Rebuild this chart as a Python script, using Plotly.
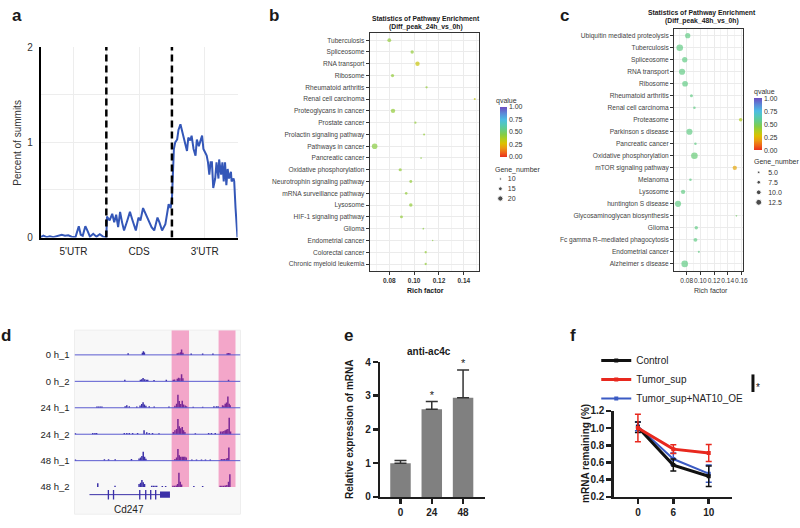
import plotly.graph_objects as go

W, H = 800, 528
FONT = "Liberation Sans, Arial, Helvetica, sans-serif"

# ---------------- data ----------------
# panel a : metagene distribution of summits
a_regions = ["5'UTR", "CDS", "3'UTR"]
a_pos = [0.00, 0.04, 0.09, 0.14, 0.19, 0.27, 0.32, 0.37, 0.42, 0.47, 0.53, 0.58, 0.61, 0.64, 0.68, 0.72, 0.75, 0.80, 0.85, 0.90, 0.95, 1.00,
         1.01, 1.05, 1.09, 1.12, 1.15, 1.18, 1.21, 1.24, 1.27, 1.32, 1.36, 1.40, 1.45, 1.49, 1.52, 1.56, 1.60, 1.65, 1.69, 1.73, 1.78, 1.81, 1.85, 1.90, 1.95, 1.98, 2.00,
         2.03, 2.05, 2.08, 2.10, 2.13, 2.15, 2.18, 2.20, 2.23, 2.25, 2.28, 2.30, 2.33, 2.36, 2.38, 2.41, 2.43, 2.46, 2.48, 2.51,
         2.53, 2.55, 2.57, 2.59, 2.61, 2.63, 2.66, 2.68, 2.71, 2.72, 2.75, 2.77, 2.79, 2.81, 2.83, 2.85, 2.87, 2.90, 2.91, 2.94,
         2.95, 2.97, 2.99, 3.00]
a_pct = [0.005, 0.02, 0.005, 0.015, 0.005, 0.025, 0.03, 0.02, 0.025, 0.01, 0.005, 0.12, 0.03, 0.02, 0.12, 0.06, 0.01, 0.04, 0.01, 0.035, 0.01, 0.005,
         0.22, 0.18, 0.25, 0.16, 0.24, 0.11, 0.27, 0.16, 0.075, 0.18, 0.27, 0.18, 0.075, 0.21, 0.18, 0.31, 0.25, 0.18, 0.11, 0.075, 0.21, 0.16, 0.075, 0.14, 0.35, 0.31, 0.40,
         0.93, 1.00, 1.03, 1.13, 1.19, 1.13, 1.06, 0.98, 0.91, 1.05, 1.02, 1.07, 0.93, 0.86, 1.03, 0.96, 1.00, 1.07, 0.93, 0.88,
         0.86, 0.79, 0.66, 0.79, 0.79, 0.52, 0.62, 0.79, 0.62, 0.82, 0.66, 0.79, 0.59, 0.79, 0.55, 0.72, 0.62, 0.69, 0.59, 0.62,
         0.59, 0.31, 0.04, 0.0]

# panel b : pathway enrichment 24h vs 0h (top to bottom)
b_pathways = ["Tuberculosis", "Spliceosome", "RNA transport", "Ribosome", "Rheumatoid arthritis",
              "Renal cell carcinoma", "Proteoglycans in cancer", "Prostate cancer", "Prolactin signaling pathway",
              "Pathways in cancer", "Pancreatic cancer", "Oxidative phosphorylation", "Neurotrophin signaling pathway",
              "mRNA surveillance pathway", "Lysosome", "HIF-1 signaling pathway", "Glioma", "Endometrial cancer",
              "Colorectal cancer", "Chronic myeloid leukemia"]
b_rich = [0.080, 0.0984, 0.1027, 0.0826, 0.110, 0.1488, 0.083, 0.101, 0.108, 0.0682,
          0.1056, 0.0888, 0.0973, 0.0936, 0.0973, 0.0898, 0.1074, 0.1149, 0.1093, 0.1093]
b_genes = [15, 13.5, 17, 13, 10, 9, 17, 10, 9, 21, 8, 13, 12, 11, 14, 12, 8, 7, 10, 10]
b_q = [0.42, 0.42, 0.31, 0.42, 0.42, 0.33, 0.42, 0.42, 0.42, 0.44,
       0.44, 0.42, 0.42, 0.42, 0.42, 0.42, 0.44, 0.44, 0.42, 0.42]
b_gene_levels = [10, 15, 20]

# panel c : pathway enrichment 48h vs 0h (top to bottom)
c_pathways = ["Ubiquitin mediated proteolysis", "Tuberculosis", "Spliceosome", "RNA transport", "Ribosome",
              "Rheumatoid arthritis", "Renal cell carcinoma", "Proteasome", "Parkinson s disease", "Pancreatic cancer",
              "Oxidative phosphorylation", "mTOR signaling pathway", "Melanoma", "Lysosome", "huntington S disease",
              "Glycosaminoglycan biosynthesis", "Glioma", "Fc gamma R\u2013mediated phagocytosis", "Endometrial cancer",
              "Alzheimer s disease"]
c_rich = [0.0815, 0.0698, 0.0771, 0.0732, 0.0776, 0.0869, 0.0913, 0.159, 0.084, 0.0928,
          0.0913, 0.1504, 0.0855, 0.0747, 0.0673, 0.1528, 0.094, 0.0928, 0.0978, 0.0771]
c_genes = [11, 14, 11, 13, 12, 6, 5, 7, 13, 5, 14, 9, 5, 9, 13, 3, 7, 8, 4, 14]
c_q = [0.55, 0.55, 0.55, 0.55, 0.55, 0.55, 0.55, 0.36, 0.55, 0.55,
       0.53, 0.21, 0.55, 0.55, 0.55, 0.50, 0.55, 0.55, 0.55, 0.55]
c_gene_levels = [5.0, 7.5, 10.0, 12.5]

# panel d : IGV-style coverage tracks around Cd247 (position 0-100, signal)
d_tracks = ["0 h_1", "0 h_2", "24 h_1", "24 h_2", "48 h_1", "48 h_2"]
d_pos_0h_1 = [32.3, 40.9, 41.5, 42.1, 61.9, 62.9, 63.9, 64.5, 65.3, 70.3, 77.2, 83.4, 92.0, 92.8, 93.6]
d_sig_0h_1 = [0.6, 0.8, 1.4, 0.9, 0.6, 0.8, 1.0, 2.0, 0.8, 0.5, 0.5, 0.5, 0.6, 0.7, 0.6]
d_pos_0h_2 = [30.3, 39.7, 40.5, 41.3, 42.3, 43.3, 44.1, 47.9, 55.3, 59.5, 60.3, 61.9, 62.7, 63.5, 64.5, 65.3, 92.8]
d_sig_0h_2 = [0.6, 0.6, 0.8, 1.3, 0.8, 0.6, 0.6, 0.5, 0.6, 0.6, 0.7, 1.0, 1.4, 1.2, 2.7, 1.2, 0.6]
d_pos_24h_1 = [13.5, 14.5, 15.5, 16.5, 30.5, 31.5, 33.0, 37.5, 39.5, 40.5, 41.3, 42.1, 43.0, 45.0, 48.0, 56.9, 60.5, 61.5, 62.3, 63.1,
               64.0, 64.9, 65.7, 66.7, 67.5, 71.5, 77.2, 84.0, 85.5, 86.5, 89.2, 90.0, 90.8, 91.6, 92.4, 93.2, 93.8]
d_sig_24h_1 = [0.5, 0.5, 0.5, 0.5, 0.6, 1.0, 0.6, 0.5, 0.9, 1.4, 2.1, 1.2, 0.8, 0.6, 0.5, 0.5, 0.8, 1.5, 4.9, 2.6,
               1.4, 2.7, 1.2, 0.9, 0.6, 0.4, 0.4, 0.6, 0.6, 0.6, 1.0, 0.8, 1.5, 2.0, 4.3, 1.5, 1.0]
d_pos_24h_2 = [0.5, 11.0, 12.3, 13.3, 30.0, 31.5, 33.0, 35.0, 38.0, 41.9, 43.5, 45.0, 47.0, 50.9, 59.5, 60.5, 61.5, 62.3, 63.1, 64.0,
               64.9, 65.7, 66.5, 72.8, 80.8, 82.5, 84.8, 88.0, 89.0, 90.0, 90.8, 91.6, 92.4, 93.2, 94.0]
d_sig_24h_2 = [0.4, 0.5, 0.5, 0.5, 0.5, 0.5, 0.5, 0.5, 0.5, 1.5, 0.7, 0.5, 0.5, 0.4, 0.8, 1.5, 2.0, 5.8, 3.0, 2.3,
               2.7, 1.5, 0.8, 0.4, 0.5, 0.5, 0.5, 1.0, 1.0, 1.2, 1.5, 1.8, 2.0, 6.2, 1.0]
d_pos_48h_1 = [0.5, 18.0, 20.5, 24.5, 34.3, 38.9, 39.8, 40.6, 41.4, 42.2, 43.0, 60.5, 61.5, 62.3, 63.1, 64.0, 64.9, 65.7, 66.5, 67.3,
               70.7, 73.5, 76.5, 78.9, 81.8, 88.5, 89.5, 90.5, 91.6, 92.4, 93.0]
d_sig_48h_1 = [0.4, 0.5, 0.5, 0.5, 0.6, 0.8, 1.2, 1.8, 3.4, 1.5, 0.7, 0.6, 1.2, 4.4, 2.0, 1.5, 1.5, 1.5, 1.5, 1.2,
               0.4, 0.4, 0.4, 0.4, 0.4, 0.6, 0.6, 0.6, 0.8, 1.0, 5.0]
d_pos_48h_2 = [14.0, 24.4, 38.9, 39.8, 40.6, 41.4, 42.2, 46.5, 47.5, 48.5, 49.5, 52.9, 54.9, 59.3, 60.3, 61.3, 62.1, 62.9, 63.7, 64.5,
               71.9, 77.2, 87.8, 88.8, 89.8, 90.8, 91.8, 92.8, 93.6]
d_sig_48h_2 = [1.5, 0.5, 1.2, 1.6, 2.7, 1.8, 1.2, 0.5, 0.5, 0.5, 0.5, 0.4, 0.4, 0.5, 0.5, 0.6, 1.2, 5.4, 2.0, 1.0,
               0.4, 0.4, 0.5, 0.5, 0.5, 0.6, 0.8, 2.0, 4.9]
d_highlights = [(58.5, 69.0), (86.8, 97.0)]
d_gene_name = "Cd247"
d_gene_span = [9.0, 57.5]
d_exon_start = [20.0, 23.1, 38.9, 42.5, 45.5, 48.5, 51.5]
d_exon_end = [20.8, 23.9, 39.7, 43.3, 46.3, 49.3, 57.5]
d_exon_kind = ["cds", "cds", "cds", "cds", "cds", "cds", "utr"]

# panel e : anti-ac4c RIP-qPCR
e_time = ["0", "24", "48"]
e_expr = [1.0, 2.6, 2.94]
e_err = [0.08, 0.23, 0.82]
e_sig = ["", "*", "*"]

# panel f : mRNA decay
f_time = ["0", "6", "10"]
f_control = [1.01, 0.57, 0.44]
f_control_err = [0.06, 0.07, 0.12]
f_tumor = [1.00, 0.755, 0.71]
f_tumor_err = [0.16, 0.05, 0.10]
f_nat10 = [1.02, 0.64, 0.47]
f_nat10_err = [0.05, 0.07, 0.10]

# ---------------- helpers ----------------
def X(p):
    return p / W


def Y(p):
    return 1 - p / H


def dx(l, r):
    return [X(l), X(r)]


def dy(t, b):
    return [Y(b), Y(t)]


annotations = []
shapes = []


def ann(text, x, y, size=10, bold=False, xanchor="center", yanchor="middle", angle=0, color="#1a1a1a"):
    annotations.append(dict(text=f"<b>{text}</b>" if bold else text, x=X(x), y=Y(y), xref="paper", yref="paper",
                            showarrow=False, xanchor=xanchor, yanchor=yanchor, textangle=angle,
                            font=dict(size=size, color=color, family=FONT)))


QSCALE = [[0.0, "#e8301c"], [0.08, "#ef5f1a"], [0.18, "#eb9a12"], [0.27, "#dcc000"], [0.36, "#b2cc1e"],
          [0.45, "#84cc46"], [0.55, "#64cc86"], [0.65, "#54c8b8"], [0.75, "#4cbce4"], [0.87, "#5b8ad8"], [1.0, "#6c4cc0"]]
QTICKS = [0, 0.25, 0.5, 0.75, 1.0]

fig = go.Figure()
axes = {}

# ================= panel a =================
a_yrange = [0, 2]
fig.add_trace(go.Scatter(x=a_pos, y=a_pct, mode="lines", line=dict(color="#3457b8", width=2),
                         xaxis="x", yaxis="y", showlegend=False, hoverinfo="skip"))
for i in range(1, len(a_regions)):
    shapes.append(dict(type="line", xref="x", yref="y", x0=i, x1=i, y0=a_yrange[0], y1=a_yrange[1],
                       line=dict(color="black", width=2.5, dash="7px,4px")))
a_xt = [k * 0.5 for k in range(2 * len(a_regions) + 1)]
a_xl = [a_regions[k // 2] if k % 2 == 1 else "" for k in range(len(a_xt))]
axes["xaxis"] = dict(domain=dx(41, 239), anchor="y", range=[0, len(a_regions)], tickmode="array", tickvals=a_xt,
                     ticktext=a_xl, showgrid=True, gridcolor="#ededed", showline=True, linecolor="black", linewidth=2,
                     ticks="", tickfont=dict(size=10, color="#222"), zeroline=False, ticklabelstandoff=3)
axes["yaxis"] = dict(domain=dy(42, 237), anchor="x", range=a_yrange, tickmode="array",
                     tickvals=[0, 0.5, 1, 1.5, 2], ticktext=["0", "", "1", "", "2"], showgrid=True, gridcolor="#ededed",
                     showline=True, linecolor="black", linewidth=2, ticks="", tickfont=dict(size=10, color="#333"),
                     zeroline=False, ticklabelstandoff=4)
ann("Percent of summits", 18, 140, size=10, angle=-90, color="#333")
ann("a", 17, 10, size=17, bold=True)


# ================= panels b and c =================
def enrichment(tag, paths, rich, genes, q, size_fn, xdom, ydom, xr, tick_bold, cat_size, cb):
    fig.add_trace(go.Scatter(
        x=rich, y=paths, mode="markers", xaxis="x" + tag, yaxis="y" + tag, showlegend=False, hoverinfo="skip",
        marker=dict(size=[size_fn(g) for g in genes], color=q, colorscale=QSCALE, cmin=0, cmax=1, showscale=True,
                    line=dict(width=0),
                    colorbar=dict(x=X(cb[0]), xanchor="left", xpad=0, y=Y(cb[2]), yanchor="bottom", ypad=0,
                                  lenmode="pixels", len=cb[2] - cb[1], thickness=cb[3], outlinewidth=0,
                                  tickvals=QTICKS, ticktext=[f"{v:.2f}" for v in QTICKS], ticks="",
                                  tickfont=dict(size=7, color="#333")))))
    n = len(paths)
    axes["xaxis" + tag] = dict(domain=xdom, anchor="y" + tag, range=xr, tick0=0.08, dtick=0.02, tickformat=".2f",
                               tickangle=0,
                               showgrid=True, gridcolor="#ebebeb", minor=dict(dtick=0.01, showgrid=True,
                                                                             gridcolor="#f4f4f4", ticks=""),
                               showline=True, mirror=True, linecolor="#333", linewidth=1, ticks="outside",
                               ticklen=3, tickcolor="#333",
                               tickfont=dict(size=6.5, color="#333", weight="bold" if tick_bold else "normal"),
                               zeroline=False)
    axes["yaxis" + tag] = dict(domain=ydom, anchor="x" + tag, type="category", categoryorder="array",
                               categoryarray=list(reversed(paths)), range=[-0.58, n - 1 + 0.58],
                               showgrid=True, gridcolor="#ebebeb", showline=True, mirror=True, linecolor="#333",
                               linewidth=1, ticks="outside", ticklen=3, tickcolor="#333",
                               tickfont=dict(size=cat_size, color="#444"), zeroline=False)


enrichment("2", b_pathways, b_rich, b_genes, b_q, lambda g: 0.3 * g - 0.7, dx(372, 482), dy(28, 271),
           [0.0642, 0.1522], True, 6.6, (503, 105, 154.5, 7))
enrichment("3", c_pathways, c_rich, c_genes, c_q, lambda g: 0.45 * g + 0.3, dx(678.3, 747.3), dy(23.3, 271),
           [0.0615, 0.1619], False, 6.6, (759, 95.5, 147.5, 8))

ann("Statistics of Pathway Enrichment", 428.5, 13, size=6.8, bold=True)
ann("(Diff_peak_24h_vs_0h)", 428.5, 21.5, size=6.8, bold=True)
ann("Rich factor", 428, 291, size=7, bold=True)
ann("qvalue", 497, 97.5, size=7, xanchor="left", color="#333")
ann("Gene_number", 496, 168, size=7, xanchor="left", color="#333")
ann("b", 276, 10, size=17, bold=True)

ann("Statistics of Pathway Enrichment", 706, 7, size=6.8, bold=True)
ann("(Diff_peak_48h_vs_0h)", 706, 15.5, size=6.8, bold=True)
ann("Rich factor", 715, 291.5, size=7, color="#333")
ann("qvalue", 757, 88.5, size=7, xanchor="left", color="#333")
ann("Gene_number", 757, 160, size=7, xanchor="left", color="#333")
ann("c", 568, 10, size=17, bold=True)


def size_key(tag, levels, labels, size_fn, xdom, ydom):
    fig.add_trace(go.Scatter(x=[0] * len(levels), y=labels, mode="markers", xaxis="x" + tag, yaxis="y" + tag,
                             marker=dict(size=[size_fn(v) for v in levels], color="black"),
                             showlegend=False, hoverinfo="skip", cliponaxis=False))
    axes["xaxis" + tag] = dict(domain=xdom, anchor="y" + tag, range=[-1, 1], visible=False)
    axes["yaxis" + tag] = dict(domain=ydom, anchor="x" + tag, side="right", type="category", categoryorder="array",
                               categoryarray=labels, range=[len(levels) - 0.5, -0.5], showgrid=False,
                               showline=False, zeroline=False, ticks="", tickfont=dict(size=7, color="#333"),
                               ticklabelstandoff=2)


size_key("7", b_gene_levels, [str(v) for v in b_gene_levels], lambda g: 0.3 * g - 0.7, dx(499, 508), dy(172, 202))
size_key("8", c_gene_levels, [f"{v:.1f}" for v in c_gene_levels], lambda g: 0.45 * g + 0.3, dx(757, 770),
         dy(165, 206))

# ================= panel d =================
d_yrange = [-60.24, 9.35]
d_base = [-10 * i for i in range(len(d_tracks))]
d_gene_y = -52.85
shapes.append(dict(type="rect", xref="x4 domain", yref="y4 domain", x0=0, x1=1, y0=0, y1=1,
                   fillcolor="#f8f8f8", line=dict(color="#eeeeee", width=1), layer="below"))
for s, e in d_highlights:
    shapes.append(dict(type="rect", xref="x4", yref="y4", x0=s, x1=e, y0=d_base[-1], y1=d_yrange[1],
                       fillcolor="#f3a6c9", line=dict(width=0), layer="below"))

d_data = [(d_pos_0h_1, d_sig_0h_1), (d_pos_0h_2, d_sig_0h_2), (d_pos_24h_1, d_sig_24h_1),
          (d_pos_24h_2, d_sig_24h_2), (d_pos_48h_1, d_sig_48h_1), (d_pos_48h_2, d_sig_48h_2)]
for i, (pos, sig) in enumerate(d_data):
    if i < len(d_data) - 1:
        fig.add_trace(go.Scatter(x=[0, 100], y=[d_base[i]] * 2, mode="lines", line=dict(color="#5b5bd0", width=1),
                                 xaxis="x4", yaxis="y4", showlegend=False, hoverinfo="skip"))
    cols = ["#7a2896" if any(s <= p <= e for s, e in d_highlights) else "#3b30a8" for p in pos]
    fig.add_trace(go.Bar(x=pos, y=sig, base=d_base[i], width=0.9, marker=dict(color=cols, line=dict(width=0)),
                         xaxis="x4", yaxis="y4", showlegend=False, hoverinfo="skip"))

fig.add_trace(go.Scatter(x=d_gene_span, y=[d_gene_y] * 2, mode="lines", line=dict(color="#3b30a8", width=1),
                         xaxis="x4", yaxis="y4", showlegend=False, hoverinfo="skip"))
ex_h = [3.6 if k == "cds" else 2.4 for k in d_exon_kind]
fig.add_trace(go.Bar(x=[(s + e) / 2 for s, e in zip(d_exon_start, d_exon_end)], y=ex_h,
                     base=[d_gene_y - h / 2 for h in ex_h], width=[e - s for s, e in zip(d_exon_start, d_exon_end)],
                     marker=dict(color="#3b30a8", line=dict(width=0)), xaxis="x4", yaxis="y4",
                     showlegend=False, hoverinfo="skip"))
annotations.append(dict(text=d_gene_name, x=33, y=-58.6, xref="x4", yref="y4", showarrow=False,
                        font=dict(size=10, color="#222", family=FONT)))
axes["xaxis4"] = dict(domain=dx(75, 242), anchor="y4", range=[0, 100], visible=False)
axes["yaxis4"] = dict(domain=dy(331.7, 520), anchor="x4", range=d_yrange, tickmode="array", tickvals=d_base,
                      ticktext=d_tracks, ticks="", showgrid=False, zeroline=False, showline=False,
                      tickfont=dict(size=9.5, color="#222"), ticklabelstandoff=4)
ann("d", 6, 337, size=17, bold=True)

# ================= panel e =================
fig.add_trace(go.Bar(x=e_time, y=e_expr, width=0.655, marker=dict(color="#808080", line=dict(width=0)),
                     error_y=dict(type="data", symmetric=False, array=e_err, arrayminus=[0] * len(e_err),
                                  color="#333", thickness=1.5, width=6),
                     xaxis="x5", yaxis="y5", showlegend=False, hoverinfo="skip"))
fig.add_trace(go.Scatter(x=e_time, y=[v + e for v, e in zip(e_expr, e_err)], mode="text", text=e_sig,
                         textposition="top center", textfont=dict(size=11, color="#222"), cliponaxis=False,
                         xaxis="x5", yaxis="y5", showlegend=False, hoverinfo="skip"))
axes["xaxis5"] = dict(domain=dx(382.7, 487.7), anchor="y5", type="category", range=[-0.645, 2.69],
                      showline=True, linecolor="#1e1e1e", linewidth=2.5, ticks="outside", ticklen=5, tickwidth=2.5,
                      tickcolor="#1e1e1e", tickfont=dict(size=10, color="#222", weight="bold"), showgrid=False,
                      zeroline=False)
axes["yaxis5"] = dict(domain=dy(364.3, 502.3), anchor="x5", range=[0, 4], dtick=1, showline=True,
                      linecolor="#1e1e1e", linewidth=2.5, ticks="outside", ticklen=5, tickwidth=2.5,
                      tickcolor="#1e1e1e", tickfont=dict(size=10, color="#222", weight="bold"), showgrid=False,
                      zeroline=False)
ann("anti-ac4c", 432, 354, size=10, bold=True)
ann("Relative expression of mRNA", 351, 433, size=10, bold=True, angle=-90)
ann("e", 351, 337, size=17, bold=True)

# ================= panel f =================
f_series = [("Tumor_sup+NAT10_OE", f_nat10, f_nat10_err, "#3b5bc4", 2, 3),
            ("Control", f_control, f_control_err, "#111111", 3, 1),
            ("Tumor_sup", f_tumor, f_tumor_err, "#e8281e", 3, 2)]
for name, vals, errs, col, lw, rank in f_series:
    fig.add_trace(go.Scatter(x=f_time, y=vals, name=name, mode="lines+markers",
                             line=dict(color=col, width=lw), marker=dict(color=col, size=4, symbol="square"),
                             error_y=dict(type="data", array=errs, color=col, thickness=1.5, width=3),
                             xaxis="x6", yaxis="y6", legendrank=rank, hoverinfo="skip"))
axes["xaxis6"] = dict(domain=dx(617.7, 736.7), anchor="y6", type="category", range=[-0.68, 2.66],
                      showline=True, linecolor="#1e1e1e", linewidth=2.5, ticks="outside", ticklen=5, tickwidth=2.5,
                      tickcolor="#1e1e1e", tickfont=dict(size=10, color="#222", weight="bold"), showgrid=False,
                      zeroline=False)
axes["yaxis6"] = dict(domain=dy(414.3, 502.3), anchor="x6", range=[0.2, 1.2], tickmode="array",
                      tickvals=[0.2, 0.4, 0.6, 0.8, 1.0, 1.2], tickformat=".1f", showline=True,
                      linecolor="#1e1e1e", linewidth=2.5, ticks="outside", ticklen=5, tickwidth=2.5,
                      tickcolor="#1e1e1e", tickfont=dict(size=10, color="#222", weight="bold"), showgrid=False,
                      zeroline=False)
ann("mRNA remaining (%)", 589, 458, size=10, bold=True, angle=-90)
ann("f", 577, 337, size=17, bold=True)
shapes.append(dict(type="line", xref="paper", yref="paper", x0=X(757.7), x1=X(757.7), y0=Y(395), y1=Y(377),
                   line=dict(color="#111", width=3)))
ann("*", 763, 390, size=10, color="#111")

fig.update_layout(
    width=W, height=H, margin=dict(l=0, r=0, t=0, b=0), paper_bgcolor="white", plot_bgcolor="white",
    font=dict(family=FONT, color="#222", size=10), barmode="overlay", showlegend=True,
    legend=dict(x=X(600), y=Y(348), xanchor="left", yanchor="top", font=dict(size=10, color="#222"),
                bgcolor="rgba(0,0,0,0)", itemwidth=30, tracegroupgap=0),
    shapes=shapes, annotations=annotations, **axes)

fig.write_html("out.html", config={"displayModeBar": False, "staticPlot": True},
               post_script="document.body.style.margin='0';document.body.style.overflow='hidden';")
